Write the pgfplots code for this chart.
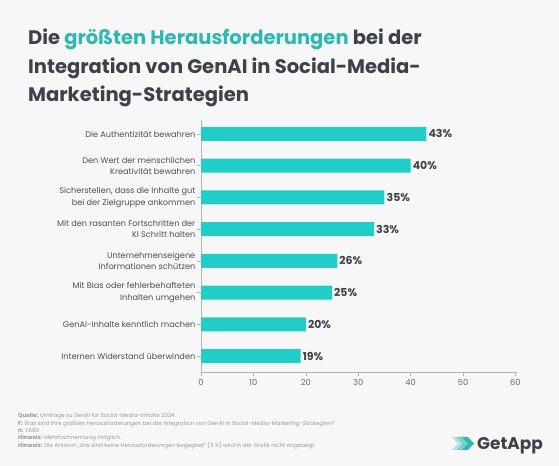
\documentclass[border=0pt]{standalone}
\usepackage{pgfplots}
\pgfplotsset{compat=1.18}
\usepackage{fontspec}
\setmainfont{Poppins}
\definecolor{bg}{HTML}{F7F7F7}
\definecolor{bar}{HTML}{22CDC8}
\definecolor{titlec}{HTML}{3D414A}
\definecolor{teal}{HTML}{2DB8B2}
\definecolor{labc}{HTML}{4A4E55}
\definecolor{axc}{HTML}{B4B4B4}
\definecolor{footc}{HTML}{9A9A9A}
\begin{document}
\begin{tikzpicture}[x=1bp,y=1bp]
\fill[bg] (0,0) rectangle (559,466);
% title
\node[anchor=base west, inner sep=0, text=titlec, font=\fontsize{19.6}{24}\bfseries\selectfont] at (28,421) {Die \textcolor{teal}{größten Herausforderungen} bei der};
\node[anchor=base west, inner sep=0, text=titlec, font=\fontsize{19.6}{24}\bfseries\selectfont] at (28,392.5) {Integration von GenAI in Social-Media-};
\node[anchor=base west, inner sep=0, text=titlec, font=\fontsize{19.6}{24}\bfseries\selectfont] at (28,364) {Marketing-Strategien};
\begin{axis}[
  at={(201bp,94bp)}, anchor=south west,
  scale only axis, width=316bp, height=252bp,
  xmin=0, xmax=60.3,
  y dir=reverse, ymin=-0.44, ymax=7.5,
  xbar, bar width=14bp,
  axis x line*=bottom, axis y line*=left,
  axis line style={axc, line width=0.6pt},
  xtick={0,10,...,60},
  ytick={0,...,7},
  tick style={axc, line width=0.6pt},
  tick align=outside,
  major tick length=4bp,
  xticklabel style={font=\fontsize{8.3}{10}\selectfont, text=labc!85},
  /pgf/number format/assume math mode=true,
  yticklabels={Die Authentizität bewahren,
    {Den Wert der menschlichen\\Kreativität bewahren},
    {Sicherstellen, dass die Inhalte gut\\bei der Zielgruppe ankommen},
    {Mit den rasanten Fortschritten der\\KI Schritt halten},
    {Unternehmenseigene\\Informationen schützen},
    {Mit Bias oder fehlerbehafteten\\Inhalten umgehen},
    GenAI-Inhalte kenntlich machen,
    Internen Widerstand überwinden},
  yticklabel style={font=\fontsize{8.2}{11.5}\selectfont, text=labc, align=right, inner sep=1.5bp},
  nodes near coords={\pgfmathprintnumber{\pgfplotspointmeta}\%},
  nodes near coords style={font=\fontsize{11}{12}\bfseries\selectfont, text=titlec, anchor=west, inner sep=2bp},
  point meta=x,
  axis background/.style={fill=bg},
  clip=false,
]
\addplot[fill=bar, draw=none] coordinates {
(43,0) (40,1) (35,2) (33,3) (26,4) (25,5) (20,6) (19,7)};
\end{axis}
% footer
\begin{scope}[every node/.style={anchor=base west, inner sep=0, text=footc, font=\fontsize{5.6}{6.5}\selectfont}]
\node at (18,48) {\textbf{Quelle:} Umfrage zu GenAI für Social-Media-Inhalte 2024};
\node at (18,40.7) {\textbf{F:} Was sind Ihre größten Herausforderungen bei der Integration von GenAI in Social-Media-Marketing-Strategien?};
\node at (18,33.4) {\textbf{n:} 1.680};
\node at (18,26.1) {\textbf{Hinweis:} Mehrfachnennung möglich.};
\node at (18,18.8) {\textbf{Hinweis:} Die Antwort „Uns sind keine Herausforderungen begegnet“ (3 \%) wird in der Grafik nicht angezeigt};
\end{scope}
% logo
\foreach \dx/\op in {0/0.35,5/0.6,10/1} {
  \fill[teal, opacity=\op] (452+\dx,29) -- (458+\dx,29) -- (464+\dx,22.5) -- (458+\dx,16) -- (452+\dx,16) -- (458+\dx,22.5) -- cycle;
}
\node[anchor=base west, inner sep=0, text=titlec, font=\fontsize{17}{20}\bfseries\selectfont] at (477,16) {GetApp};
\end{tikzpicture}
\end{document}
